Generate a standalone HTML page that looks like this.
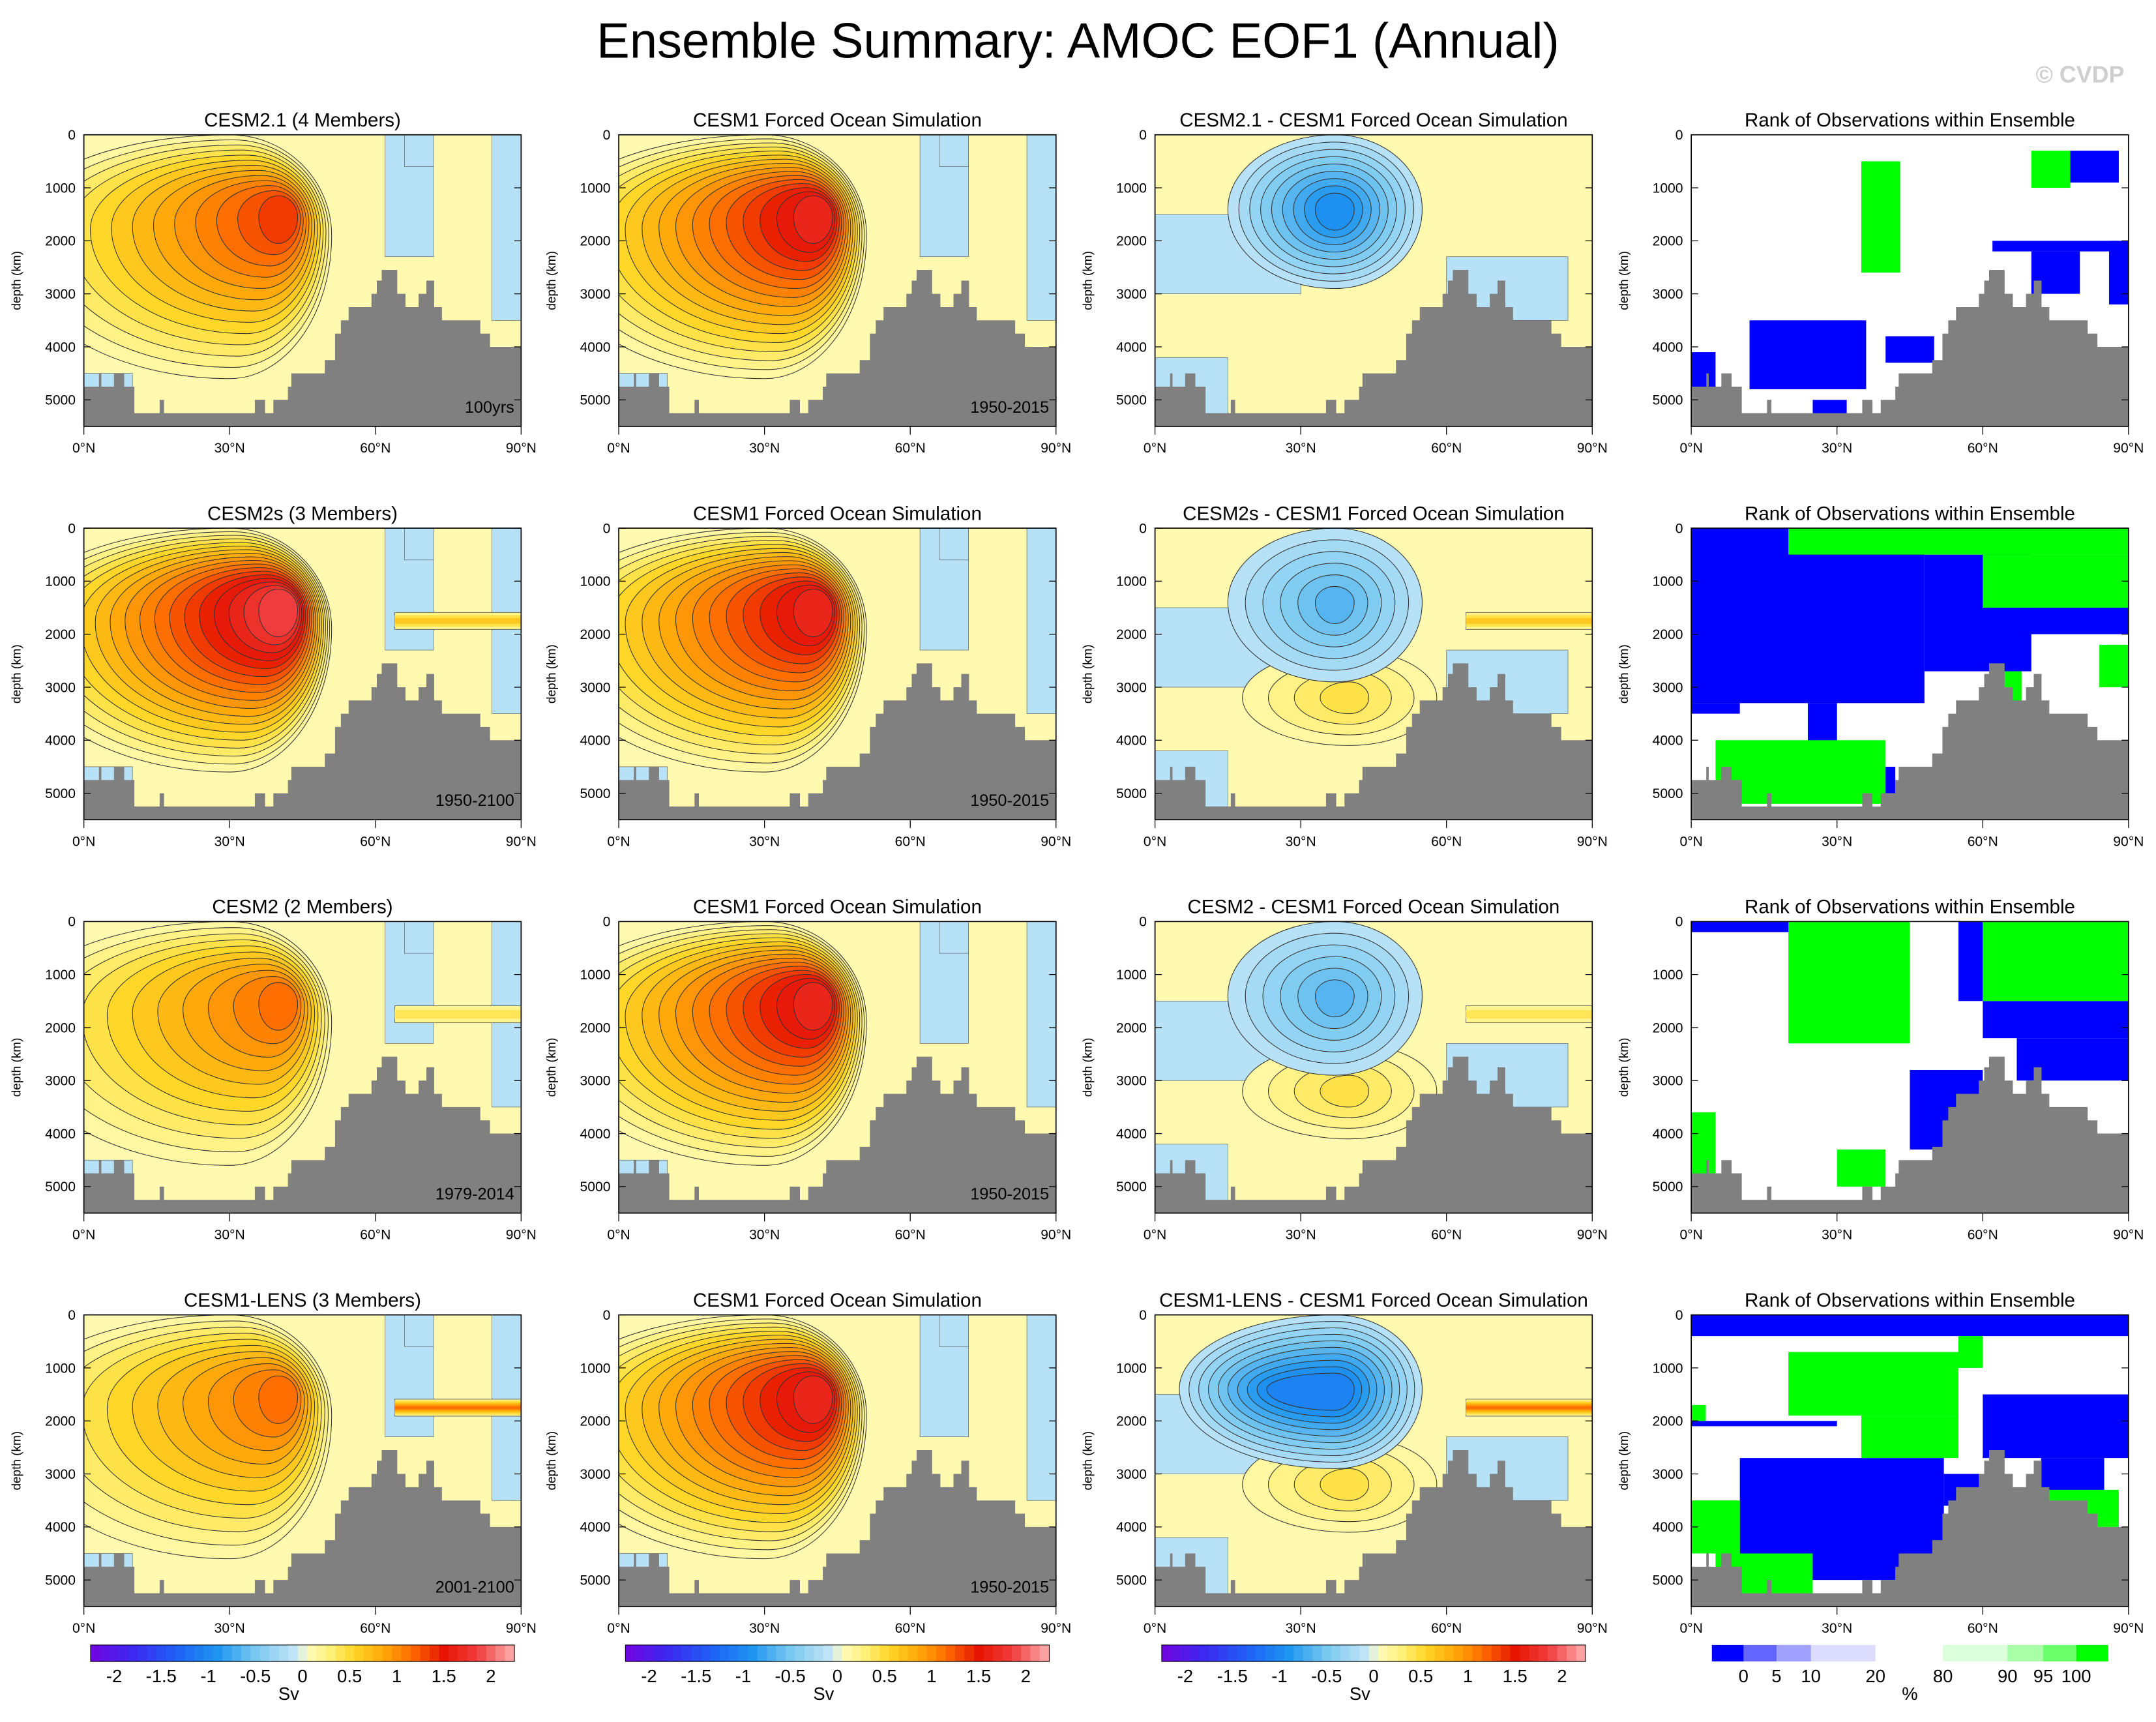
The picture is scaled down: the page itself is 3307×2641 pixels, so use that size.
<!DOCTYPE html>
<html><head><meta charset="utf-8">
<style>
html,body{margin:0;padding:0;background:#fff;}
svg{display:block;font-family:"Liberation Sans",sans-serif;}
</style></head>
<body>
<svg id="fig" width="3307" height="2641" viewBox="0 0 1568 1252" preserveAspectRatio="none" xmlns="http://www.w3.org/2000/svg">
<rect width="1568" height="1252" fill="#fff"/>
<text x="784" y="42" font-size="36" text-anchor="middle" fill="#000">Ensemble Summary: AMOC EOF1 (Annual)</text>
<text x="1545" y="60" font-size="17" font-weight="bold" text-anchor="end" fill="#cfcfcf">© CVDP</text>
</svg>
<script>
// ---- data ----
const topoEdges=[0,3.1,3.6,6.2,8.3,10.4,15.6,16.5,35.2,37.3,39,42,42.7,49.6,51.7,52.9,54.5,59.2,60.3,61.3,64.5,66.2,68.9,70.5,72.1,73.7,81.6,83.6,90];
const topoDepth=[4750,4500,4750,4500,4750,5250,5000,5250,5000,5250,5000,4750,4500,4250,3750,3500,3250,3000,2750,2550,3000,3250,3000,2750,3250,3500,3750,4000];
const yTicks=[0,1000,2000,3000,4000,5000];
const xTicks=[0,30,60,90];
const xTickLabels=["0°N","30°N","60°N","90°N"];
const svBarLabels=["-2","-1.5","-1","-0.5","0","0.5","1","1.5","2"];
const svBarValues=[-2,-1.5,-1,-0.5,0,0.5,1,1.5,2];
const rankLabels=["0","5","10","20","80","90","95","100"];
const titles=[
 ["CESM2.1 (4 Members)","CESM1 Forced Ocean Simulation","CESM2.1 - CESM1 Forced Ocean Simulation","Rank of Observations within Ensemble"],
 ["CESM2s (3 Members)","CESM1 Forced Ocean Simulation","CESM2s - CESM1 Forced Ocean Simulation","Rank of Observations within Ensemble"],
 ["CESM2 (2 Members)","CESM1 Forced Ocean Simulation","CESM2 - CESM1 Forced Ocean Simulation","Rank of Observations within Ensemble"],
 ["CESM1-LENS (3 Members)","CESM1 Forced Ocean Simulation","CESM1-LENS - CESM1 Forced Ocean Simulation","Rank of Observations within Ensemble"]];
const periods=[["100yrs","1950-2015"],["1950-2100","1950-2015"],["1979-2014","1950-2015"],["2001-2100","1950-2015"]];
const modelPeak=[1.25,1.75,1.15,1.05];
const obsPeak=1.6;
const diffMin=[-0.9,-0.6,-0.6,-1.0];
const bandVal=[0,0.6,0.35,1.1];
const rankBlue=[
 [[0,5,4100,5000],[12,36,3500,4800],[78,88,300,900],[62,88,2000,2200],[70,80,2200,3000],[86,90,2000,3200],[40,50,3800,4300],[25,32,5000,5400]],
 [[0,48,0,3300],[0,10,3300,3500],[24,30,3300,4200],[48,70,500,2700],[60,90,1500,2000],[30,42,4500,5000]],
 [[0,25,0,200],[55,60,0,1500],[60,90,1500,2200],[67,90,2200,3000],[45,60,2800,4300]],
 [[0,90,0,400],[0,30,2000,2100],[10,52,2700,5000],[52,60,3000,3600],[60,90,1500,2700],[72,85,2700,3300]]];
const rankGreen=[
 [[35,43,500,2600],[70,78,300,1000]],
 [[20,90,0,500],[60,90,500,1500],[5,40,4000,5200],[62,68,2700,3500],[84,90,2200,3000]],
 [[20,45,0,2300],[60,90,0,1500],[30,40,4300,5000],[0,5,3600,4800]],
 [[20,55,700,1900],[55,60,400,1000],[35,55,1900,2700],[0,10,3500,4500],[5,25,4500,5300],[72,88,3300,4000],[0,3,1700,2000]]];

// ---- helpers ----
const NS="http://www.w3.org/2000/svg";
const svg=document.getElementById('fig');
function mk(tag,attrs,parent){const e=document.createElementNS(NS,tag);for(const k in attrs)e.setAttribute(k,attrs[k]);(parent||svg).appendChild(e);return e;}
const stops=[[-2.3,[120,0,220]],[-1.8,[60,40,240]],[-1.3,[30,100,245]],[-0.9,[30,150,240]],[-0.5,[120,200,240]],[-0.05,[200,232,248]],[0.05,[255,252,190]],[0.3,[255,240,120]],[0.55,[255,215,40]],[0.85,[255,170,10]],[1.15,[255,110,0]],[1.5,[230,20,0]],[1.85,[240,60,60]],[2.3,[255,190,190]]];
function cmap(v){if(v<=stops[0][0])return rgb(stops[0][1]);for(let i=1;i<stops.length;i++){if(v<=stops[i][0]){const a=stops[i-1],b=stops[i];const t=(v-a[0])/(b[0]-a[0]);return rgb(a[1].map((c,j)=>c+(b[1][j]-c)*t));}}return rgb(stops[stops.length-1][1]);}
function rgb(c){return `rgb(${c.map(x=>Math.round(x)).join(',')})`;}
const colX=[61,450,840,1230],rowY=[98,384,670,956],PW=318,PH=212;
function blob(g,xs,ys,cx,cy,L,R,T,B,fill,stroke){
 const d=`M${xs(cx-L)},${ys(cy)} A${xs(cx)-xs(cx-L)},${ys(cy)-ys(cy-T)} 0 0 1 ${xs(cx)},${ys(cy-T)} A${xs(cx+R)-xs(cx)},${ys(cy)-ys(cy-T)} 0 0 1 ${xs(cx+R)},${ys(cy)} A${xs(cx+R)-xs(cx)},${ys(cy+B)-ys(cy)} 0 0 1 ${xs(cx)},${ys(cy+B)} A${xs(cx)-xs(cx-L)},${ys(cy+B)-ys(cy)} 0 0 1 ${xs(cx-L)},${ys(cy)} Z`;
 return mk('path',{d:d,fill:fill,stroke:stroke,'stroke-width':0.5},g);
}
function band(f,xs,ys,val){
 const n=Math.max(1,Math.round(val/0.2));
 for(let k=1;k<=n;k++){const h=320*(1-(k-1)/n);
  const b=mk('rect',{x:xs(64),y:ys(1750-h/2),width:xs(90)-xs(64),height:ys(h)-ys(0),fill:cmap(k*0.2*val/(n*0.2)+0.05),stroke:k===1?'#555':'none','stroke-width':0.4},f);
  
  }
}
let pid=0;
for(let r=0;r<4;r++)for(let c=0;c<4;c++){
 const x0=colX[c],y0=rowY[r];
 const xs=lat=>x0+lat/90*PW, ys=d=>y0+d/5500*PH;
 const g=mk('g',{});
 
 
 const cid='clip'+(pid++);
 const cp=mk('clipPath',{id:cid},g);mk('rect',{x:x0,y:y0,width:PW,height:PH},cp);
 const f=mk('g',{'clip-path':`url(#${cid})`},g);
 
 
 if(c<2){
  mk('rect',{x:x0,y:y0,width:PW,height:PH,fill:cmap(0.1)},f);
  [[62,0,10,2300],[66,0,6,600],[84,0,6,3500],[0,4500,10,800]].forEach(p=>mk('rect',{x:xs(p[0]),y:ys(p[1]),width:xs(p[0]+p[2])-xs(p[0]),height:ys(p[1]+p[3])-ys(p[1]),fill:cmap(-0.15),stroke:'#555','stroke-width':0.3},f));
  const peak=c===0?modelPeak[r]:obsPeak;const N=Math.round(peak/0.1);
  for(let k=1;k<=N;k++){const t=(k-1)/Math.max(N-1,1);
   blob(f,xs,ys,30+10*t,1900-350*t,46-42*t,21-17*t,1900-1500*t,2700-2200*t,cmap(k*0.1+0.05),'#333');}
  if(c===0&&bandVal[r]>0)band(f,xs,ys,bandVal[r]);
 }else if(c===2){
  mk('rect',{x:x0,y:y0,width:PW,height:PH,fill:cmap(0.1)},f);
  [[0,1500,30,1500],[60,2300,25,1200],[0,4200,15,1300]].forEach(p=>mk('rect',{x:xs(p[0]),y:ys(p[1]),width:xs(p[0]+p[2])-xs(p[0]),height:ys(p[1]+p[3])-ys(p[1]),fill:cmap(-0.15),stroke:'#555','stroke-width':0.3},f));
  if(r!==0){for(let k=1;k<=4;k++){const t=(k-1)/3;blob(f,xs,ys,40,3200,22-16*t,18-14*t,900-600*t,900-600*t,cmap(k*0.1+0.05),'#333');}}
  const N=Math.round(-diffMin[r]/0.1);
  for(let k=1;k<=N;k++){const t=(k-1)/Math.max(N-1,1);
   blob(f,xs,ys,37,1400,(r===3?32:22)-18*t,18-14*t,1400-1100*t,1500-1100*t,cmap(-k*0.1-0.05),'#333');}
  if(bandVal[r]>0)band(f,xs,ys,bandVal[r]);
 }else{
  mk('rect',{x:x0,y:y0,width:PW,height:PH,fill:'#fff'},f);
  rankBlue[r].forEach(p=>{const e=mk('rect',{x:xs(p[0]),y:ys(p[2]),width:xs(p[1])-xs(p[0]),height:ys(p[3])-ys(p[2]),fill:'#0000ff'},f);});
  rankGreen[r].forEach(p=>{const e=mk('rect',{x:xs(p[0]),y:ys(p[2]),width:xs(p[1])-xs(p[0]),height:ys(p[3])-ys(p[2]),fill:'#00ff00'},f);});
 }
 // topography
 let d=`M${xs(0)},${ys(5500)}`;
 for(let i=0;i<topoDepth.length;i++){d+=` L${xs(topoEdges[i])},${ys(topoDepth[i])} L${xs(topoEdges[i+1])},${ys(topoDepth[i])}`;}
 d+=` L${xs(90)},${ys(5500)} Z`;
 const land=mk('path',{d:d,fill:'#808080'},f);
 
 
 mk('rect',{x:x0,y:y0,width:PW,height:PH,fill:'none',stroke:'#000','stroke-width':0.8},g);
 // axes
 yTicks.forEach(v=>{mk('line',{x1:x0,x2:x0+5,y1:ys(v),y2:ys(v),stroke:'#000','stroke-width':0.6},g);mk('line',{x1:x0+PW,x2:x0+PW-5,y1:ys(v),y2:ys(v),stroke:'#000','stroke-width':0.6},g);
  const t=mk('text',{x:x0-6,y:ys(v)+3.5,'font-size':10,'text-anchor':'end'},g);t.textContent=v;});
 xTicks.forEach((v,i)=>{mk('line',{x1:xs(v),x2:xs(v),y1:y0+PH,y2:y0+PH+6,stroke:'#000','stroke-width':0.6},g);
  const t=mk('text',{x:xs(v),y:y0+PH+19,'font-size':10,'text-anchor':'middle'},g);t.textContent=xTickLabels[i];});
 const yl=mk('text',{x:0,y:0,'font-size':9,'text-anchor':'middle',transform:`translate(${x0-46},${y0+PH/2}) rotate(-90)`},g);yl.textContent='depth (km)';
 
 
 const tt=mk('text',{x:x0+PW/2,y:y0-6,'font-size':14,'text-anchor':'middle'},g);tt.textContent=titles[r][c];
 
 
 if(c<2){const pt=mk('text',{x:x0+PW-5,y:y0+PH-10,'font-size':12,'text-anchor':'end'},g);pt.textContent=periods[r][c];
  
  }
}
// Sv colorbars
for(let c=0;c<3;c++){
 const g=mk('g',{});
 
 
 const cx=v=>colX[c]+22+(v+2)/4*274;
 for(let i=0;i<45;i++){const v=-2.25+i*0.1;mk('rect',{x:cx(v),y:1196,width:cx(v+0.1)-cx(v)+0.3,height:12,fill:cmap(v+0.05)},g);}
 mk('rect',{x:cx(-2.25),y:1196,width:cx(2.25)-cx(-2.25),height:12,fill:'none',stroke:'#000','stroke-width':0.5},g);
 svBarValues.forEach((v,i)=>{const t=mk('text',{x:cx(v),y:1223,'font-size':13,'text-anchor':'middle'},g);t.textContent=svBarLabels[i];});
 const u=mk('text',{x:cx(0)-10,y:1236,'font-size':13,'text-anchor':'middle'},g);u.textContent='Sv';
}
// rank colorbar
{const g=mk('g',{});
 
 
 const edges=[1245,1268,1292,1317,1364,1413,1460,1486,1510,1533];
 const cols=['#0000ff','#6464ff','#a0a0ff','#dcdcff','#ffffff','#dcffdc','#a8ffa8','#6cff6c','#00ff00'];
 for(let i=0;i<9;i++)mk('rect',{x:edges[i],y:1196,width:edges[i+1]-edges[i]+0.3,height:12,fill:cols[i]},g);
 rankLabels.forEach((l,i)=>{const t=mk('text',{x:edges[i+1],y:1223,'font-size':13,'text-anchor':'middle'},g);t.textContent=l;});
 const u=mk('text',{x:1389,y:1236,'font-size':13,'text-anchor':'middle'},g);u.textContent='%';
}
</script>
</body></html>
